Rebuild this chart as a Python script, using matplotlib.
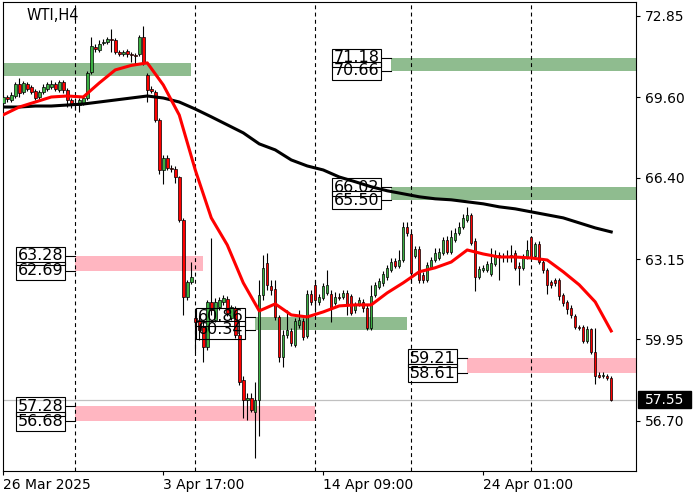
import numpy as np
import matplotlib
matplotlib.use("Agg")
import matplotlib.pyplot as plt
import matplotlib.transforms as mtransforms
from matplotlib.patches import Rectangle

# WTI H4 candles, bar 0 = 26 Mar 2025
opens = [69.38, 69.62, 69.50, 69.66, 70.14, 69.82, 70.14, 70.02, 69.86, 69.62,
         69.82, 69.94, 70.02, 70.14, 69.90, 70.22, 69.90, 69.50, 69.38, 69.30,
         69.38, 69.58, 70.62, 71.62, 71.50, 71.78, 71.82, 71.94, 71.90, 71.42,
         71.34, 71.46, 71.34, 71.30, 71.34, 72.02, 70.50, 69.94, 69.82, 68.71,
         66.71, 67.19, 66.79, 66.75, 66.43, 64.72, 61.65, 62.25, 60.81, 60.73,
         60.45, 59.66, 61.45, 60.73, 61.25, 61.45, 61.57, 60.81, 61.21, 60.13,
         58.34, 57.54, 57.62, 57.06, 57.54, 61.73, 63.01, 62.09, 61.97, 60.85,
         59.26, 60.13, 60.29, 59.74, 60.53, 60.69, 60.09, 61.77, 62.13, 61.45,
         61.61, 61.81, 61.77, 61.41, 61.65, 61.65, 61.81, 61.69, 61.13, 61.37,
         61.45, 61.21, 60.41, 61.73, 62.05, 62.21, 62.45, 62.73, 63.08, 62.89,
         63.12, 64.44, 64.16, 63.28, 63.56, 62.53, 62.33, 62.85, 63.12, 63.20,
         63.40, 63.92, 63.44, 63.92, 64.20, 64.44, 64.72, 64.92, 63.88, 62.45,
         62.73, 62.73, 62.57, 62.96, 63.32, 63.24, 63.28, 63.24, 63.40, 62.89,
         62.81, 63.24, 64.04, 63.28, 63.76, 63.04, 62.73, 62.25, 62.33, 62.33,
         61.73, 61.45, 61.21, 60.89, 60.45, 60.45, 59.90, 60.37, 59.46, 58.54,
         58.50, 58.50, 58.42]
highs = [69.70, 69.70, 69.82, 70.22, 70.38, 70.26, 70.22, 70.10, 69.94, 69.90,
         70.14, 70.22, 70.30, 70.22, 70.30, 70.30, 69.98, 69.58, 69.58, 69.58,
         69.70, 70.66, 72.02, 71.74, 71.90, 71.94, 72.02, 72.34, 71.98, 71.50,
         71.50, 71.54, 71.42, 71.38, 72.10, 72.46, 70.58, 70.06, 69.90, 68.79,
         67.31, 67.31, 66.91, 66.87, 66.47, 64.80, 62.33, 63.05, 61.13, 60.93,
         60.65, 61.53, 64.00, 61.61, 61.65, 61.73, 61.69, 61.33, 61.29, 60.21,
         58.50, 57.82, 57.82, 58.26, 62.33, 63.32, 63.41, 62.33, 62.33, 60.93,
         60.33, 61.13, 60.41, 60.81, 61.13, 60.81, 61.93, 61.93, 62.33, 61.77,
         62.21, 62.73, 61.93, 61.85, 61.81, 61.93, 61.93, 61.77, 61.45, 61.65,
         61.57, 61.33, 62.13, 62.25, 62.41, 62.69, 62.93, 63.20, 63.20, 63.52,
         64.64, 64.64, 64.24, 63.68, 63.68, 62.65, 63.04, 63.24, 63.60, 63.60,
         64.04, 64.08, 64.32, 64.40, 64.64, 64.96, 65.24, 65.00, 64.00, 62.89,
         62.93, 63.08, 63.60, 63.52, 63.44, 63.40, 63.52, 63.72, 63.52, 63.04,
         63.36, 63.92, 64.08, 63.84, 63.88, 63.16, 62.81, 62.33, 62.41, 62.41,
         61.81, 61.53, 61.33, 60.97, 60.53, 60.53, 60.49, 60.41, 60.41, 58.66,
         58.66, 58.58, 58.50]
lows = [69.26, 69.42, 69.42, 69.58, 69.62, 69.74, 69.86, 69.74, 69.50, 69.50,
        69.74, 69.86, 69.94, 69.86, 69.82, 69.78, 69.22, 69.18, 69.10, 69.02,
        69.30, 69.50, 70.54, 71.42, 71.42, 71.70, 71.74, 71.42, 71.34, 71.26,
        71.26, 71.22, 71.02, 70.90, 71.26, 70.90, 69.42, 69.78, 68.63, 66.55,
        66.16, 66.71, 66.63, 66.19, 64.64, 60.93, 61.53, 62.17, 59.46, 59.94,
        59.06, 59.54, 60.93, 60.65, 61.13, 61.33, 60.89, 60.73, 60.01, 58.14,
        56.82, 56.74, 57.06, 55.22, 56.10, 61.53, 61.93, 61.73, 60.73, 59.06,
        58.86, 60.01, 59.70, 59.66, 60.41, 59.94, 60.01, 61.33, 61.13, 61.33,
        61.53, 61.73, 60.65, 61.33, 61.53, 61.57, 60.93, 60.93, 61.01, 61.29,
        61.05, 60.33, 60.33, 61.65, 61.97, 62.09, 62.33, 62.65, 62.81, 62.81,
        63.04, 64.08, 62.21, 63.20, 62.21, 62.21, 62.25, 62.77, 63.04, 63.12,
        63.32, 63.36, 63.36, 63.84, 64.12, 64.36, 64.64, 63.72, 61.89, 62.37,
        62.65, 62.65, 62.49, 62.89, 62.33, 63.04, 63.04, 63.04, 62.73, 62.13,
        62.73, 63.16, 63.16, 63.20, 62.96, 62.61, 61.77, 62.01, 62.09, 61.53,
        61.29, 60.97, 60.81, 60.37, 60.33, 59.82, 59.82, 59.38, 58.18, 58.42,
        58.42, 58.34, 57.50]
closes = [69.62, 69.54, 69.70, 70.14, 69.78, 70.18, 69.94, 69.82, 69.58, 69.82,
          70.02, 70.14, 70.14, 69.94, 70.22, 69.90, 69.50, 69.30, 69.30, 69.50,
          69.58, 70.58, 71.66, 71.54, 71.74, 71.82, 71.94, 71.90, 71.42, 71.34,
          71.42, 71.34, 71.30, 71.26, 72.02, 70.98, 69.90, 69.86, 68.71, 66.71,
          67.19, 66.79, 66.75, 66.43, 64.72, 61.65, 62.25, 62.45, 60.65, 60.33,
          59.66, 61.45, 61.13, 61.45, 61.53, 61.61, 61.01, 61.25, 60.13, 58.26,
          57.54, 57.62, 57.14, 57.54, 61.73, 62.81, 62.13, 61.93, 60.85, 59.26,
          60.13, 60.33, 59.82, 60.69, 60.73, 60.05, 61.77, 61.45, 61.53, 61.65,
          62.09, 62.13, 61.21, 61.65, 61.61, 61.81, 61.33, 61.01, 61.33, 61.53,
          61.21, 60.41, 61.69, 62.13, 62.29, 62.57, 62.81, 63.05, 62.89, 63.12,
          64.44, 64.20, 62.60, 63.56, 62.33, 62.33, 62.93, 63.12, 63.40, 63.44,
          63.92, 63.44, 64.04, 64.20, 64.44, 64.80, 64.92, 63.80, 62.45, 62.77,
          62.81, 62.96, 63.00, 63.32, 63.24, 63.28, 63.26, 63.32, 62.81, 62.81,
          63.24, 63.52, 63.24, 63.76, 63.04, 62.73, 62.13, 62.13, 62.21, 61.69,
          61.41, 61.17, 60.93, 60.45, 60.41, 59.90, 60.37, 59.46, 58.50, 58.46,
          58.54, 58.42, 57.55]

# moving averages read every 4 bars
ma_fast = [68.91, 69.22, 69.42, 69.62, 69.66, 69.62, 70.18, 70.70, 70.88, 70.98,
           70.10, 68.90, 66.71, 64.80, 63.72, 62.21, 61.09, 61.37, 60.93, 60.85,
           61.05, 61.29, 61.33, 61.33, 61.81, 62.21, 62.65, 62.81, 63.04, 63.52,
           63.36, 63.24, 63.24, 63.20, 63.12, 62.65, 62.13, 61.45, 60.29]
ma_slow = [69.22, 69.22, 69.26, 69.26, 69.30, 69.34, 69.42, 69.50, 69.58, 69.66,
           69.58, 69.42, 69.14, 68.83, 68.51, 68.19, 67.75, 67.51, 67.11, 66.87,
           66.71, 66.43, 66.24, 66.04, 65.88, 65.76, 65.64, 65.56, 65.52, 65.44,
           65.36, 65.24, 65.16, 65.04, 64.92, 64.80, 64.60, 64.40, 64.24]

# zones
zone_hi = [70.98, 71.18, 66.02, 63.28, 60.86, 59.21, 57.28]
zone_lo = [70.46, 70.66, 65.50, 62.69, 60.34, 58.61, 56.68]
zone_start = [-1, 97, 97, 18, 63, 116, 18]
zone_end = [47, 170, 170, 50, 101, 170, 78]
zone_kind = ["buy", "buy", "buy", "sell", "buy", "sell", "sell"]
zone_labeled = [False, True, True, True, True, True, True]

week_starts = [18, 48, 78, 102, 132]
tick_bars = [0, 40, 80, 120]
tick_names = ["26 Mar 2025", "3 Apr 17:00", "14 Apr 09:00", "24 Apr 01:00"]
y_ticks = [72.85, 69.60, 66.40, 63.15, 59.95, 56.70]
last_price = 57.55

fig = plt.figure(figsize=(7, 5), dpi=100)
ax = fig.add_axes([2.7 / 700, 29 / 500, 633.3 / 700, 469 / 500])

n = len(closes)
x = np.arange(n)
o = np.array(opens)
c = np.array(closes)

zcol = {"buy": "#8fbc8f", "sell": "#ffb6c1"}
for k in range(len(zone_hi)):
    ax.fill_between([zone_start[k], zone_end[k]], zone_lo[k], zone_hi[k],
                    color=zcol[zone_kind[k]], lw=0, zorder=1)
    if zone_labeled[k]:
        xl = zone_start[k] - 2.4
        for p in (zone_hi[k], zone_lo[k]):
            ax.plot([xl, zone_start[k]], [p, p], color="black", lw=0.8, zorder=5)
            ax.text(xl - 0.55, p, "%.2f" % p, ha="right", va="center", fontsize=11.5,
                    color="black", zorder=6,
                    bbox=dict(boxstyle="square,pad=0.1", fc="none", ec="black", lw=0.8))

ax.axhline(last_price, color="#c0c0c0", lw=0.9, zorder=1.5)
for w in week_starts:
    ax.axvline(w, color="black", lw=0.8, ls=(0, (3.5, 3)), zorder=2)

# candles
ax.vlines(x, lows, highs, color="black", lw=0.8, zorder=3)
cols = np.where(c >= o, "#3cb043", "#ff0000")
body = np.maximum(np.abs(c - o), 0.03)
ax.bar(x, body, bottom=np.minimum(o, c), width=0.62, color=cols,
       edgecolor="black", linewidth=0.5, zorder=3.5)

ma_x = np.arange(0, n, 4)
ax.plot(ma_x, ma_slow, color="black", lw=2.2, zorder=4, solid_joinstyle="round")
ax.plot(ma_x, ma_fast, color="#ff0000", lw=2.2, zorder=4.2, solid_joinstyle="round")

ax.set_xlim(-0.15, 158.2)
ax.set_ylim(54.706, 73.408)

ax.yaxis.tick_right()
ax.set_yticks(y_ticks)
ax.set_yticklabels(["%.2f" % v for v in y_ticks])
ax.set_xticks(tick_bars)
ax.set_xticklabels(tick_names)
for lbl in ax.get_xticklabels():
    lbl.set_ha("left")
ax.tick_params(axis="both", direction="out", length=3, width=0.8, labelsize=10,
               color="black")
ax.tick_params(axis="y", pad=3.5)
ax.tick_params(axis="x", pad=2)
for s in ax.spines.values():
    s.set_linewidth(0.8)
    s.set_color("black")

ax.text(0.038, 0.987, "WTI,H4", transform=ax.transAxes, ha="left", va="top",
        fontsize=10.5, color="black")

# current price tag on the axis
blend = mtransforms.blended_transform_factory(ax.transAxes, ax.transData)
ax.add_patch(Rectangle((1.0032, last_price - 0.34), 0.0836, 0.68, transform=blend,
                       facecolor="black", edgecolor="black", clip_on=False, zorder=6))
ax.text(1.045, last_price, "%.2f" % last_price, transform=blend, ha="center",
        va="center", fontsize=10, color="white", clip_on=False, zorder=7)

fig.savefig("out.png", dpi=100)
